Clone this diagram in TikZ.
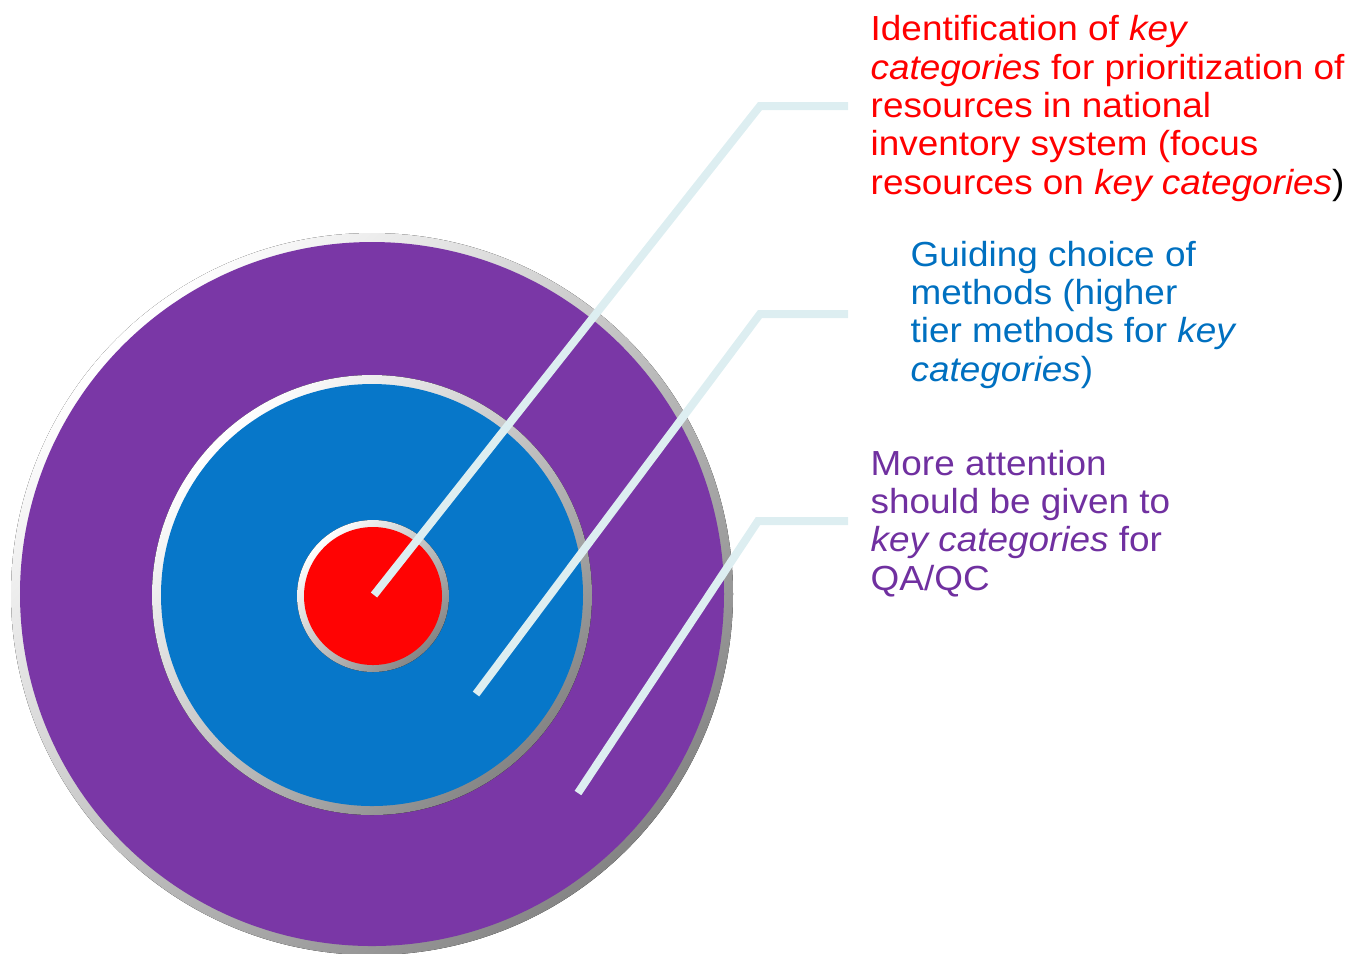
\documentclass[tikz,border=0pt]{standalone}
\usepackage{fontspec}
\setmainfont{Liberation Sans}[FakeStretch=1.06]
\usetikzlibrary{positioning}
\definecolor{ringPurple}{HTML}{7A37A6}
\definecolor{ringBlue}{HTML}{0777C9}
\definecolor{ringRed}{HTML}{FF0303}
\definecolor{textRed}{HTML}{FF0000}
\definecolor{textBlue}{HTML}{0070C0}
\definecolor{textPurple}{HTML}{7030A0}
\definecolor{leaderLine}{HTML}{DDEEF1}

\begin{document}
\begin{tikzpicture}[x=0.01cm, y=-0.01cm,
  rim/.style={shading=axis, top color=white, middle color=black!12, bottom color=black!48, shading angle=45},
  leader/.style={draw=leaderLine, line width=0.08cm, line join=miter},
  note/.style={anchor=base west, inner sep=0pt, align=left, font=\fontsize{9.9pt}{10.9pt}\selectfont},
]
  \useasboundingbox (0,0) rectangle (1354,953);

  % target rings, each sitting in a silver bevel
  \fill[rim] (372,594) circle (361);
  \fill[ringPurple] (372,594) circle (352);
  \fill[rim] (372,595) circle (220);
  \fill[ringBlue] (372,595) circle (211);
  \fill[rim] (373,596) circle (76);
  \fill[ringRed] (373,596) circle (69);

  \coordinate (hitRed) at (374,595);
  \coordinate (bendRed) at (760,106);
  \coordinate (endRed) at (848,106);
  \coordinate (hitBlue) at (476,694);
  \coordinate (bendBlue) at (760,314);
  \coordinate (endBlue) at (848,314);
  \coordinate (hitPurple) at (578,793);
  \coordinate (bendPurple) at (758,521);
  \coordinate (endPurple) at (848,521);

  \draw[leader] (hitRed) -- (bendRed) -- (endRed);
  \draw[leader] (hitBlue) -- (bendBlue) -- (endBlue);
  \draw[leader] (hitPurple) -- (bendPurple) -- (endPurple);

  % notes are anchored on the baseline of their last line
  \node[note, text=textRed] (noteRed) at (870,194) {Identification of \textit{key}\\
    \textit{categories} for prioritization of\\
    resources in national\\
    inventory system (focus\\
    resources on \textit{key categories}\textcolor{black}{)}};
  \node[note, text=textBlue] (noteBlue) at (910,381) {Guiding choice of\\
    methods (higher\\
    tier methods for \textit{key}\\
    \textit{categories})};
  \node[note, text=textPurple] (notePurple) at (870,590) {More attention\\
    should be given to\\
    \textit{key categories} for\\
    QA/QC};
\end{tikzpicture}
\end{document}
